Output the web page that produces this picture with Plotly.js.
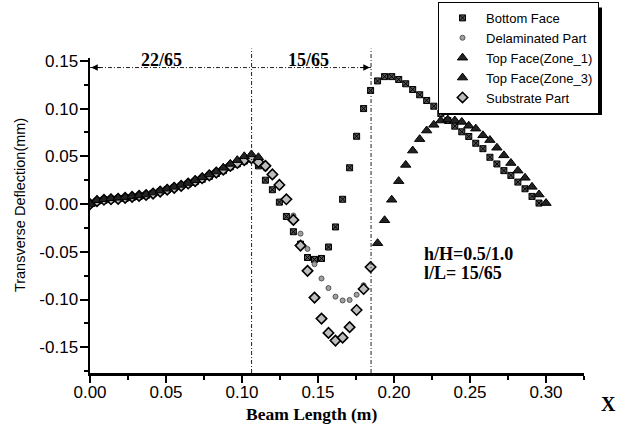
<!DOCTYPE html>
<html>
<head>
<meta charset="utf-8">
<script src="https://cdn.plot.ly/plotly-3.0.1.min.js"></script>
<style>html,body{margin:0;padding:0;background:#fff;}#chart{width:634px;height:430px;}</style>
</head>
<body>
<div id="chart"></div>
<script>
// Beam nodes (m) along the beam length
const beamNodes = [0.0000,0.0046,0.0092,0.0138,0.0185,0.0231,0.0277,0.0323,0.0369,0.0415,
  0.0462,0.0508,0.0554,0.0600,0.0646,0.0692,0.0738,0.0785,0.0831,0.0877,
  0.0923,0.0969,0.1015,0.1062,0.1108,0.1154,0.1200,0.1246,0.1292,0.1338,
  0.1385,0.1431,0.1477,0.1523,0.1569,0.1615,0.1662,0.1708,0.1754,0.1800,
  0.1846,0.1892,0.1938,0.1985,0.2031,0.2077,0.2123,0.2169,0.2215,0.2262,
  0.2308,0.2354,0.2400,0.2446,0.2492,0.2538,0.2585,0.2631,0.2677,0.2723,
  0.2769,0.2815,0.2862,0.2908,0.2954,0.3000];

const seriesNames = ["Bottom Face","Delaminated Part","Top Face(Zone_1)","Top Face(Zone_3)","Substrate Part"];

// Bottom face: nodes 0..64
const xBottom = beamNodes.slice(0, 65);
const yBottom = [0.000,0.003,0.004,0.005,0.0055,0.006,0.007,0.008,0.009,0.011,
  0.013,0.015,0.017,0.019,0.021,0.0235,0.026,0.029,0.032,0.035,
  0.039,0.042,0.045,0.047,0.040,0.025,0.015,0.002,-0.013,-0.029,
  -0.042,-0.056,-0.058,-0.057,-0.045,-0.024,0.005,0.038,0.071,0.100,
  0.119,0.129,0.1335,0.1335,0.1305,0.126,0.120,0.1145,0.1085,0.1025,
  0.095,0.0875,0.0816,0.0757,0.0708,0.0637,0.058,0.049,0.042,0.035,
  0.030,0.023,0.016,0.008,0.001];

// Delaminated part: nodes 23..40
const xDelam = beamNodes.slice(23, 41);
const yDelam = [0.047,0.043,0.037,0.029,0.018,0.004,-0.012,-0.031,-0.047,-0.063,
  -0.078,-0.088,-0.097,-0.101,-0.1005,-0.095,-0.085,-0.066];

// Top face zone 1: nodes 0..24
const xZone1 = beamNodes.slice(0, 25);
const yZone1 = [0.000,0.004,0.005,0.006,0.0065,0.007,0.008,0.009,0.010,0.012,
  0.014,0.016,0.018,0.020,0.022,0.025,0.028,0.031,0.034,0.038,
  0.042,0.046,0.050,0.052,0.049];

// Top face zone 3: nodes 41..65
const xZone3 = beamNodes.slice(41, 66);
const yZone3 = [-0.041,-0.017,0.0045,0.024,0.041,0.056,0.068,0.077,0.083,0.0875,
  0.0885,0.0875,0.086,0.082,0.079,0.072,0.067,0.059,0.051,0.043,
  0.035,0.0275,0.018,0.010,0.001];

// Substrate part: nodes 0..40
const xSub = beamNodes.slice(0, 41);
const ySub = [0.000,0.003,0.0045,0.005,0.0055,0.0065,0.0075,0.0085,0.0095,0.011,
  0.013,0.015,0.017,0.019,0.0215,0.024,0.027,0.030,0.033,0.036,
  0.040,0.043,0.046,0.048,0.044,0.040,0.031,0.020,0.005,-0.0166,
  -0.0435,-0.070,-0.098,-0.120,-0.135,-0.143,-0.140,-0.129,-0.111,-0.089,
  -0.066];

const xTickVals = [0, 0.05, 0.10, 0.15, 0.20, 0.25, 0.30];
const xTickText = ["0.00","0.05","0.10","0.15","0.20","0.25","0.30"];
const yTickVals = [-0.15, -0.10, -0.05, 0, 0.05, 0.10, 0.15];
const yTickText = ["-0.15","-0.10","-0.05","0.00","0.05","0.10","0.15"];

// Zone boundaries and the dimension line level
const zoneBounds = [0.1063, 0.1849];
const dimLineY = 0.143;
const zoneLabels = ["22/65", "15/65"];
const zoneLabelX = [0.047, 0.1436];
const infoLines = ["h/H=0.5/1.0", "l/L= 15/65"];

const sans = "Liberation Sans, Arial, sans-serif";
const serif = "Liberation Serif, Times New Roman, serif";

const traces = [
  {x: xBottom, y: yBottom, name: seriesNames[0], legendrank: 1, mode: "markers", type: "scatter",
   marker: {symbol: "square-x", size: 6, color: "#555", line: {color: "#000", width: 1}}},
  {x: xDelam, y: yDelam, name: seriesNames[1], legendrank: 2, mode: "markers", type: "scatter",
   marker: {symbol: "circle", size: 5, color: "#a0a0a0", line: {color: "#555", width: 1}}},
  {x: xSub, y: ySub, name: seriesNames[4], legendrank: 5, mode: "markers", type: "scatter",
   marker: {symbol: "diamond", size: 8, color: "#bdbdbd", line: {color: "#000", width: 1.6}}},
  {x: xZone1, y: yZone1, name: seriesNames[2], legendrank: 3, mode: "markers", type: "scatter",
   marker: {symbol: "triangle-up", size: 9, color: "#222", line: {color: "#000", width: 1}}},
  {x: xZone3, y: yZone3, name: seriesNames[3], legendrank: 4, mode: "markers", type: "scatter",
   marker: {symbol: "triangle-up", size: 9, color: "#222", line: {color: "#000", width: 1}}}
];

const dashPat = "4px,2px,1px,2px";
const shapes = [
  // legend shadow
  {type: "rect", xref: "paper", yref: "paper", x0: 0.7126, x1: 1.0364, y0: 0.819, y1: 1.16,
   fillcolor: "#000", line: {width: 0}, layer: "above"},
  // zone boundaries
  {type: "line", xref: "x", yref: "paper", x0: zoneBounds[0], x1: zoneBounds[0], y0: 0, y1: 1.03,
   line: {color: "#222", width: 1, dash: dashPat}},
  {type: "line", xref: "x", yref: "paper", x0: zoneBounds[1], x1: zoneBounds[1], y0: 0, y1: 1.03,
   line: {color: "#222", width: 1, dash: dashPat}},
  // dimension line
  {type: "line", xref: "x", yref: "y", x0: 0, x1: zoneBounds[1], y0: dimLineY, y1: dimLineY,
   line: {color: "#222", width: 1, dash: dashPat}}
];

const annotations = [
  {x: 0.0008, y: dimLineY, ax: 0.008, ay: dimLineY, axref: "x", ayref: "y", xref: "x", yref: "y",
   text: "", showarrow: true, arrowhead: 2, arrowsize: 1.3, arrowwidth: 1, arrowcolor: "#000"},
  {x: zoneBounds[1] - 0.0008, y: dimLineY, ax: zoneBounds[1] - 0.008, ay: dimLineY, axref: "x", ayref: "y", xref: "x", yref: "y",
   text: "", showarrow: true, arrowhead: 2, arrowsize: 1.3, arrowwidth: 1, arrowcolor: "#000"},
  {x: zoneLabelX[0], y: 0.1514, xref: "x", yref: "y", text: "<b>" + zoneLabels[0] + "</b>", showarrow: false,
   font: {family: serif, size: 18, color: "#000"}, xanchor: "center", yanchor: "middle"},
  {x: zoneLabelX[1], y: 0.1514, xref: "x", yref: "y", text: "<b>" + zoneLabels[1] + "</b>", showarrow: false,
   font: {family: serif, size: 18, color: "#000"}, xanchor: "center", yanchor: "middle"},
  {x: 0.2185, y: -0.052, xref: "x", yref: "y", text: "<b>" + infoLines[0] + "</b>", showarrow: false,
   font: {family: serif, size: 18, color: "#000"}, xanchor: "left", yanchor: "middle"},
  {x: 0.2185, y: -0.072, xref: "x", yref: "y", text: "<b>" + infoLines[1] + "</b>", showarrow: false,
   font: {family: serif, size: 18, color: "#000"}, xanchor: "left", yanchor: "middle"},
  {x: 0.449, y: -0.13, xref: "paper", yref: "paper", text: "<b>Beam Length (m)</b>", showarrow: false,
   font: {family: serif, size: 17.5, color: "#000"}, xanchor: "center", yanchor: "middle"},
  {x: 1.0486, y: -0.098, xref: "paper", yref: "paper", text: "<b>X</b>", showarrow: false,
   font: {family: serif, size: 20, color: "#000"}, xanchor: "center", yanchor: "middle"},
  {x: -0.1417, y: 0.533, xref: "paper", yref: "paper", text: "Transverse Deflection(mm)", showarrow: false,
   textangle: -90, font: {family: sans, size: 14.5, color: "#000"}, xanchor: "center", yanchor: "middle"}
];

const layout = {
  width: 634, height: 430,
  margin: {l: 90, r: 50, t: 58, b: 57, autoexpand: false},
  paper_bgcolor: "#fff", plot_bgcolor: "#fff",
  showlegend: true,
  legend: {x: 0.7045, y: 1.178, xanchor: "left", yanchor: "top", bgcolor: "#fff",
    bordercolor: "#000", borderwidth: 1, font: {family: sans, size: 13, color: "#000"},
    itemwidth: 37, tracegroupgap: 0},
  xaxis: {range: [0, 0.325], tickvals: xTickVals, ticktext: xTickText, showgrid: false, zeroline: false,
    showline: true, linecolor: "#000", linewidth: 2.5, ticks: "outside", ticklen: 7, tickwidth: 2, tickcolor: "#000",
    ticklabelstandoff: -5,
    minor: {dtick: 0.025, tick0: 0, ticks: "outside", ticklen: 4, tickwidth: 2, tickcolor: "#000", showgrid: false},
    tickfont: {family: sans, size: 17, color: "#000"}},
  yaxis: {range: [-0.177, 0.153], tickvals: yTickVals, ticktext: yTickText, showgrid: false, zeroline: false,
    showline: true, linecolor: "#000", linewidth: 2.5, ticks: "outside", ticklen: 8, tickwidth: 2, tickcolor: "#000",
    ticklabelstandoff: -2,
    minor: {dtick: 0.025, tick0: 0, ticks: "outside", ticklen: 4, tickwidth: 2, tickcolor: "#000", showgrid: false},
    tickfont: {family: sans, size: 17, color: "#000"}},
  shapes: shapes,
  annotations: annotations
};

Plotly.newPlot("chart", traces, layout, {displayModeBar: false, staticPlot: true});
</script>
</body>
</html>
